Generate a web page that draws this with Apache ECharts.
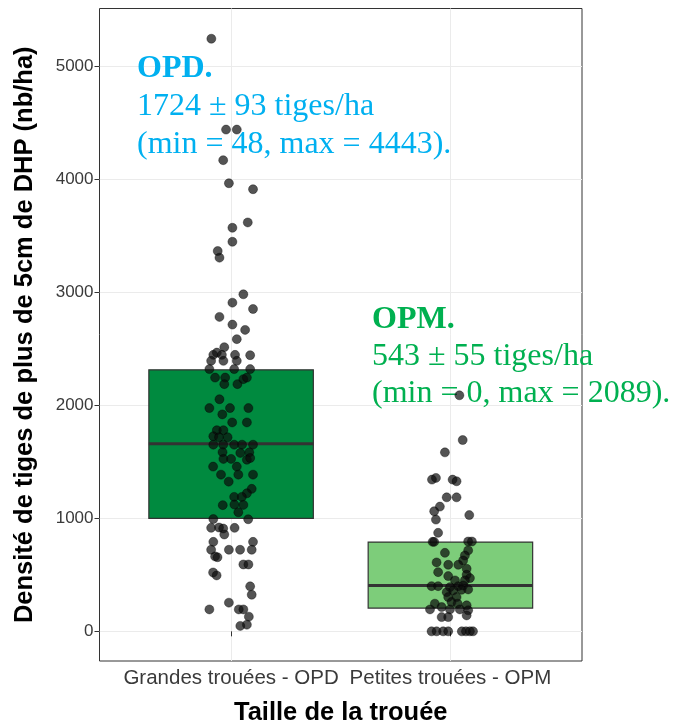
<!DOCTYPE html>
<html>
<head>
<meta charset="utf-8">
<script src="https://cdn.jsdelivr.net/npm/echarts@6/dist/echarts.min.js"></script>
<style>html,body{margin:0;padding:0;background:#fff}#c{width:674px;height:723px}</style>
</head>
<body>
<div id="c"></div>
<script>
// Categories and tick labels
const categories = ['Grandes trouées - OPD', 'Petites trouées - OPM'];
const yTicks = [0, 1000, 2000, 3000, 4000, 5000];

// Box statistics [q1, median, q3]
const opdBox = [1000, 1660, 2315];
const opmBox = [206, 405, 790];

// Jittered points: x position (category 1 or 2 plus jitter) and density values
const opdX = [0.910,0.977,1.026,0.964,0.990,1.100,1.006,1.076,1.006,0.939,0.947,1.056,1.006,1.100,0.947,1.006,1.064,1.026,0.969,0.919,0.935,0.958,0.909,0.965,1.018,1.026,1.087,0.901,1.014,1.087,0.927,0.973,0.969,1.029,1.056,1.072,0.947,0.901,0.995,1.079,0.960,1.005,1.072,0.935,0.965,0.919,0.945,0.984,0.919,0.964,1.014,1.050,1.100,0.961,1.042,1.083,0.965,1.000,1.072,1.087,0.918,1.026,0.954,1.033,1.100,0.989,1.094,1.072,1.014,1.049,0.962,1.015,1.056,1.033,0.919,1.078,0.909,0.945,0.964,1.016,0.969,0.919,1.100,0.909,0.990,1.041,1.094,0.927,0.938,1.056,1.079,0.918,0.934,1.087,1.094,0.990,0.901,1.035,1.056,1.081,1.072,1.042];
const opdY = [5245,4441,4441,4170,3966,3913,3572,3619,3448,3366,3307,2983,2909,2853,2783,2715,2668,2586,2515,2447,2467,2447,2394,2394,2447,2394,2444,2321,2321,2321,2246,2246,2188,2188,2232,2246,2054,1976,1976,1976,1920,1849,1849,1780,1780,1727,1718,1718,1652,1652,1652,1652,1652,1586,1579,1584,1526,1526,1519,1534,1458,1458,1387,1387,1387,1325,1261,1222,1190,1190,1117,1122,1119,1054,994,992,916,919,910,916,857,792,792,722,722,722,722,663,656,592,592,521,495,398,324,254,194,194,194,130,59,48];
const opmX = [2.041,2.056,1.975,1.916,1.934,2.010,2.028,1.983,2.028,1.952,1.926,1.934,2.086,1.944,1.919,1.926,2.081,2.098,1.975,2.081,2.066,2.058,1.937,1.990,2.036,2.074,1.944,1.990,2.074,2.089,2.066,2.021,1.914,1.944,1.998,2.036,2.058,1.983,2.013,2.051,2.081,1.990,2.028,1.929,2.005,2.033,2.074,1.907,1.960,1.998,2.043,2.081,1.960,1.990,2.074,1.914,1.937,1.967,1.990,2.052,2.071,2.089,2.103];
const opmY = [2089,1693,1584,1343,1358,1343,1328,1186,1186,1104,1063,989,1029,872,792,792,795,795,695,716,671,627,610,589,589,554,524,489,501,471,451,451,400,400,391,400,406,347,362,368,371,303,303,245,259,245,230,194,215,194,194,186,126,126,141,0,0,0,0,0,0,0,0];

// Annotation texts
const opdLines = ['OPD.', '1724 ± 93 tiges/ha', '(min = 48, max = 4443).'];
const opmLines = ['OPM.', '543 ± 55 tiges/ha', '(min = 0, max = 2089).'];

const toPairs = (xs, ys) => xs.map((x, i) => [x, ys[i]]);

const chart = echarts.init(document.getElementById('c'), null, {renderer: 'canvas'});

function boxItem(params, api) {
  const x = api.value(0), q1 = api.value(1), med = api.value(2), q3 = api.value(3);
  const half = 0.375;
  const tl = api.coord([x - half, q3]);
  const br = api.coord([x + half, q1]);
  const ml = api.coord([x - half, med]);
  const mr = api.coord([x + half, med]);
  const fill = params.dataIndex === 0 ? '#008a3f' : '#7dcd7a';
  return {
    type: 'group',
    children: [
      {type: 'rect', shape: {x: tl[0], y: tl[1], width: br[0] - tl[0], height: br[1] - tl[1]},
       style: {fill: fill, stroke: '#333333', lineWidth: 1.2}},
      {type: 'line', shape: {x1: ml[0], y1: ml[1], x2: mr[0], y2: mr[1]},
       style: {stroke: '#333333', lineWidth: 3}}
    ]
  };
}

const serif = '"Liberation Serif", "Times New Roman", serif';
function textLines(lines, x, ys, color) {
  return lines.map((t, i) => ({
    type: 'text', z: 1, x: x, y: ys[i],
    style: {text: t, fill: color, font: (i === 0 ? 'bold ' : '') + '32px ' + serif, verticalAlign: 'middle', align: 'left'}
  }));
}

chart.setOption({
  animation: false,
  grid: {left: 99.5, right: 92, top: 8.5, bottom: 62, show: true, borderColor: '#333333', borderWidth: 1,
         backgroundColor: '#ffffff', containLabel: false, outerBoundsMode: 'none'},
  xAxis: {
    type: 'value', min: 0.4, max: 2.6,
    axisLine: {show: false},
    axisTick: {show: true, length: 5, lineStyle: {color: '#333333'}, customValues: [1, 2]},
    axisLabel: {customValues: [1, 2], formatter: v => categories[Math.round(v) - 1] || '', color: '#3a3a3a', fontSize: 20.5, fontFamily: 'Liberation Sans, Arial', margin: 7},
    splitLine: {show: true, lineStyle: {color: '#ebebeb', width: 1}},
    name: 'Taille de la trouée', nameLocation: 'middle', nameGap: 39,
    nameTextStyle: {fontSize: 25.5, fontWeight: 'bold', color: '#000', fontFamily: 'Liberation Sans, Arial'}
  },
  yAxis: {
    type: 'value', min: -262.5, max: 5512.5,
    axisLine: {show: false},
    axisTick: {show: true, length: 5, lineStyle: {color: '#333333'}, customValues: yTicks},
    axisLabel: {customValues: yTicks, formatter: v => String(v), color: '#3a3a3a', fontSize: 17, fontFamily: 'Liberation Sans, Arial', margin: 6},
    splitLine: {show: true, lineStyle: {color: '#ebebeb', width: 1}},
    name: 'Densité de tiges de plus de 5cm de DHP (nb/ha)', nameLocation: 'middle', nameGap: 62,
    nameTextStyle: {fontSize: 25.5, fontWeight: 'bold', color: '#000', fontFamily: 'Liberation Sans, Arial'}
  },
  series: [
    {type: 'custom', renderItem: boxItem, data: [[1].concat(opdBox), [2].concat(opmBox)], z: 1, silent: true},
    {type: 'scatter', data: toPairs(opdX, opdY), symbolSize: 9, z: 3,
     itemStyle: {color: 'rgba(12,12,12,0.88)', borderColor: 'rgba(0,0,0,0.9)', borderWidth: 0.5}},
    {type: 'scatter', data: toPairs(opmX, opmY), symbolSize: 9, z: 3,
     itemStyle: {color: 'rgba(12,12,12,0.88)', borderColor: 'rgba(0,0,0,0.9)', borderWidth: 0.5}}
  ],
  graphic: [].concat(
    textLines(opdLines, 137, [69, 107, 145], '#00b0f0'),
    textLines(opmLines, 372, [320, 357, 394], '#00b050')
  )
});
</script>
</body>
</html>
